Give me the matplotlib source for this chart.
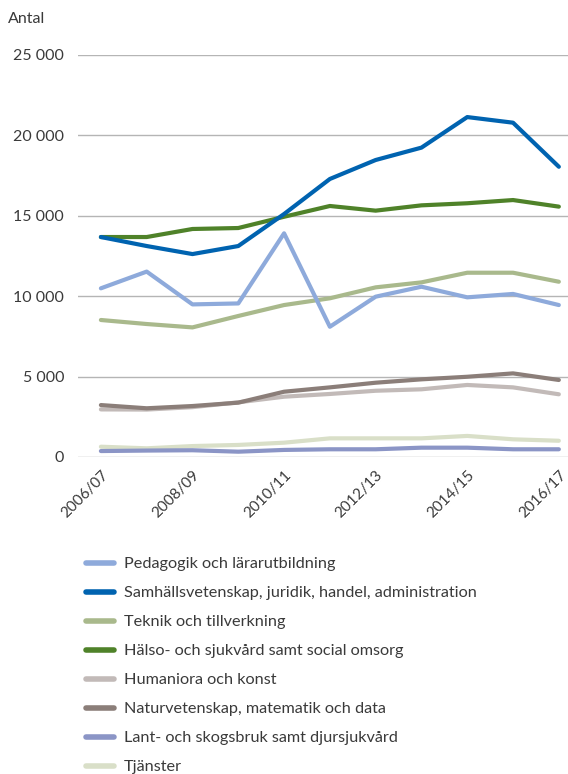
import matplotlib.pyplot as plt
from matplotlib.ticker import FuncFormatter

plt.rcParams["font.family"] = ["Lato", "DejaVu Sans"]

# Academic years (x axis)
years = ["2006/07", "2007/08", "2008/09", "2009/10", "2010/11", "2011/12",
         "2012/13", "2013/14", "2014/15", "2015/16", "2016/17"]

pedagogik = [10490, 11530, 9490, 9550, 13910, 8100, 9970, 10590, 9930, 10140, 9450]
samhall = [13680, 13120, 12620, 13120, 15110, 17290, 18470, 19240, 21140, 20790, 18050]
teknik = [8520, 8270, 8060, 8770, 9450, 9870, 10550, 10860, 11460, 11460, 10900]
halso = [13680, 13680, 14180, 14240, 14940, 15610, 15320, 15650, 15780, 15980, 15570]
humaniora = [2960, 2950, 3100, 3400, 3750, 3920, 4120, 4210, 4480, 4330, 3900]
natur = [3230, 3030, 3170, 3380, 4060, 4330, 4620, 4830, 4990, 5200, 4790]
lant = [370, 400, 420, 330, 440, 480, 480, 580, 580, 480, 480]
tjanster = [640, 540, 680, 750, 890, 1160, 1160, 1160, 1310, 1100, 1010]

series = [
    ("Pedagogik och lärarutbildning", pedagogik, "#8eaadb"),
    ("Samhällsvetenskap, juridik, handel, administration", samhall, "#0063b0"),
    ("Teknik och tillverkning", teknik, "#a9b98c"),
    ("Hälso- och sjukvård samt social omsorg", halso, "#4f8229"),
    ("Humaniora och konst", humaniora, "#c2bab8"),
    ("Naturvetenskap, matematik och data", natur, "#8b7e79"),
    ("Lant- och skogsbruk samt djursjukvård", lant, "#8b95c6"),
    ("Tjänster", tjanster, "#d9dfc8"),
]

text_color = "#3a3a3a"

fig = plt.figure(figsize=(5.68, 7.74), dpi=100)
ax = fig.add_axes([78 / 568, 1 - 457 / 774, 490 / 568, 402 / 774])

x = list(range(len(years)))
# draw in an order so the darker lines sit on top
draw_order = [7, 6, 4, 5, 2, 0, 3, 1]
lines = {}
for i in draw_order:
    label, vals, color = series[i]
    (ln,) = ax.plot(x, vals, color=color, lw=3.0, label=label,
                    solid_capstyle="round", solid_joinstyle="round")
    lines[i] = ln

ax.set_ylim(0, 25000)
ax.set_xlim(-0.5, 10.2)
ax.set_yticks(range(0, 25001, 5000))
ax.yaxis.set_major_formatter(FuncFormatter(lambda v, p: f"{v:,.0f}".replace(",", " ")))
ax.grid(axis="y", color="#b5b5b5", lw=1.0)
ax.set_axisbelow(True)
for s in ax.spines.values():
    s.set_visible(False)

ax.set_xticks(x[::2])
ax.set_xticklabels(years[::2], rotation=45, ha="right", va="top",
                   rotation_mode="anchor")
ax.tick_params(axis="both", length=0, colors=text_color)
ax.tick_params(axis="y", pad=10, labelsize=11.5)
ax.tick_params(axis="x", pad=8, labelsize=11)

fig.text(8 / 568, 1 - 19 / 774, "Antal", fontsize=11.5, color=text_color,
         va="center", ha="left")

handles = [lines[i] for i in range(len(series))]
leg = fig.legend(handles=handles, labels=[s[0] for s in series],
                 loc="upper left", bbox_to_anchor=(86 / 568, 1 - 557 / 774),
                 frameon=False, fontsize=11.7, labelspacing=0.9,
                 handlelength=1.75, handletextpad=0.6, borderpad=0,
                 borderaxespad=0)
for t in leg.get_texts():
    t.set_color(text_color)
for h in leg.legend_handles:
    h.set_linewidth(4.0)

fig.savefig("out.png", dpi=100)
